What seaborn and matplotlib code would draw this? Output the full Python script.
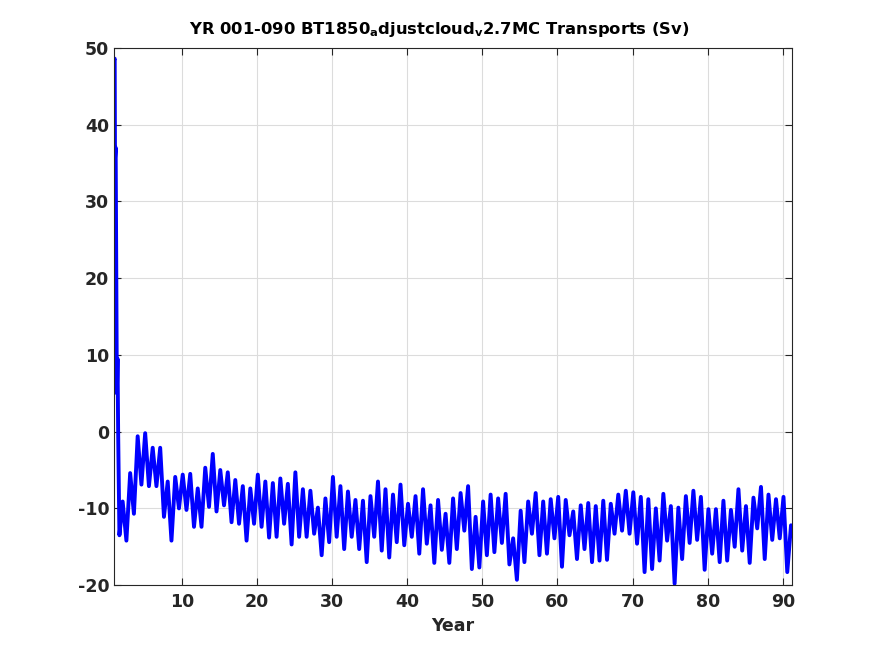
import numpy as np
import pandas as pd
import seaborn as sns
import matplotlib
matplotlib.use('Agg')
import matplotlib.pyplot as plt

# spin-up: first months of year 1 (monthly samples)
spinup_years = [1.0, 1.04, 1.08, 1.17, 1.25, 1.33, 1.42, 1.5, 1.58, 1.67]
spinup_sv = [48.5, 48.6, 35.5, 37.0, 21.0, 5.0, 9.5, 0.0, -6.0, -13.5]

# after spin-up: peaks/troughs read every half year, starting at year 2.1
transport_sv = [
    -9.1, -14.2, -5.4, -10.7, -0.6, -6.9, -0.2, -7.1, -2.1, -7.1,
    -2.1, -11.1, -6.5, -14.2, -5.9, -10.0, -5.6, -10.2, -5.5, -12.4,
    -7.4, -12.4, -4.7, -9.8, -2.9, -10.4, -5.0, -9.6, -5.3, -11.8,
    -6.3, -12.0, -7.1, -14.2, -7.4, -12.0, -5.6, -12.4, -6.5, -13.8,
    -6.7, -13.7, -6.1, -12.0, -6.8, -14.7, -5.3, -13.7, -7.5, -13.7,
    -7.7, -13.3, -9.9, -16.1, -8.7, -14.4, -5.9, -13.7, -7.1, -15.3,
    -7.8, -13.7, -8.9, -15.3, -9.0, -17.0, -8.4, -13.7, -6.5, -15.5,
    -7.5, -16.4, -8.2, -14.4, -6.9, -14.8, -9.4, -13.7, -8.4, -15.9,
    -7.5, -14.6, -9.6, -17.1, -8.9, -15.4, -10.7, -17.1, -8.7, -15.3,
    -8.0, -12.9, -7.1, -17.9, -11.1, -17.7, -9.1, -16.1, -8.2, -15.7,
    -8.7, -14.5, -8.1, -17.3, -13.9, -19.3, -10.3, -17.0, -9.1, -13.3,
    -8.0, -16.1, -9.1, -15.9, -8.8, -13.9, -8.5, -17.6, -8.9, -13.5,
    -10.4, -16.6, -9.6, -15.3, -9.3, -17.0, -9.7, -16.8, -9.0, -16.7,
    -9.4, -13.3, -8.2, -12.9, -7.7, -13.3, -7.9, -14.6, -8.5, -18.3,
    -8.8, -17.9, -10.0, -16.8, -8.1, -14.2, -9.7, -19.8, -9.9, -16.6,
    -8.4, -14.5, -7.7, -14.1, -8.5, -18.0, -10.1, -15.9, -10.1, -17.0,
    -9.0, -16.8, -10.2, -15.0, -7.5, -15.5, -9.7, -17.1, -8.6, -12.6,
    -7.2, -16.6, -8.2, -14.1, -8.8, -13.9, -8.5, -18.3, -12.2,
]
main_years = 2.1 + 0.5 * np.arange(len(transport_sv))

x_ticks = [10, 20, 30, 40, 50, 60, 70, 80, 90]
y_ticks = [-20, -10, 0, 10, 20, 30, 40, 50]

df = pd.DataFrame({
    'Year': np.concatenate([spinup_years, main_years]),
    'Sv': np.concatenate([spinup_sv, transport_sv]),
})

sns.set_style('ticks')
plt.rcParams['font.family'] = ['DejaVu Sans']
plt.rcParams['axes.unicode_minus'] = False

fig = plt.figure(figsize=(8.75, 6.56), dpi=100)
ax = fig.add_axes([0.1303, 0.108, 0.775, 0.819])

sns.lineplot(data=df, x='Year', y='Sv', color='#0000ff', linewidth=2.8,
             estimator=None, sort=False, ax=ax)

ax.set_xlim(0.95, 91.25)
ax.set_ylim(-20, 50)
ax.set_xticks(x_ticks)
ax.set_yticks(y_ticks)
ax.grid(True, color='#dcdcdc', linewidth=0.8)
ax.set_axisbelow(True)

for s in ax.spines.values():
    s.set_visible(True)
    s.set_color('#262626')
    s.set_linewidth(0.8)
ax.tick_params(direction='in', top=True, right=True, length=5, width=0.8,
               colors='#262626', labelsize=12.5)
ax.tick_params(axis='x', pad=6)
for lab in ax.get_xticklabels() + ax.get_yticklabels():
    lab.set_fontweight('bold')

ax.set_xlabel('Year', fontsize=12.5, fontweight='bold', color='#262626',
              labelpad=4)
ax.set_ylabel('')
ax.set_title(r'YR 001-090 BT1850$_{\mathbf{a}}$djustcloud$_{\mathbf{v}}$2.7MC Transports (Sv)',
             fontsize=11.8, fontweight='bold', color='black', pad=10, x=0.48)

fig.savefig('out.png', dpi=100)
